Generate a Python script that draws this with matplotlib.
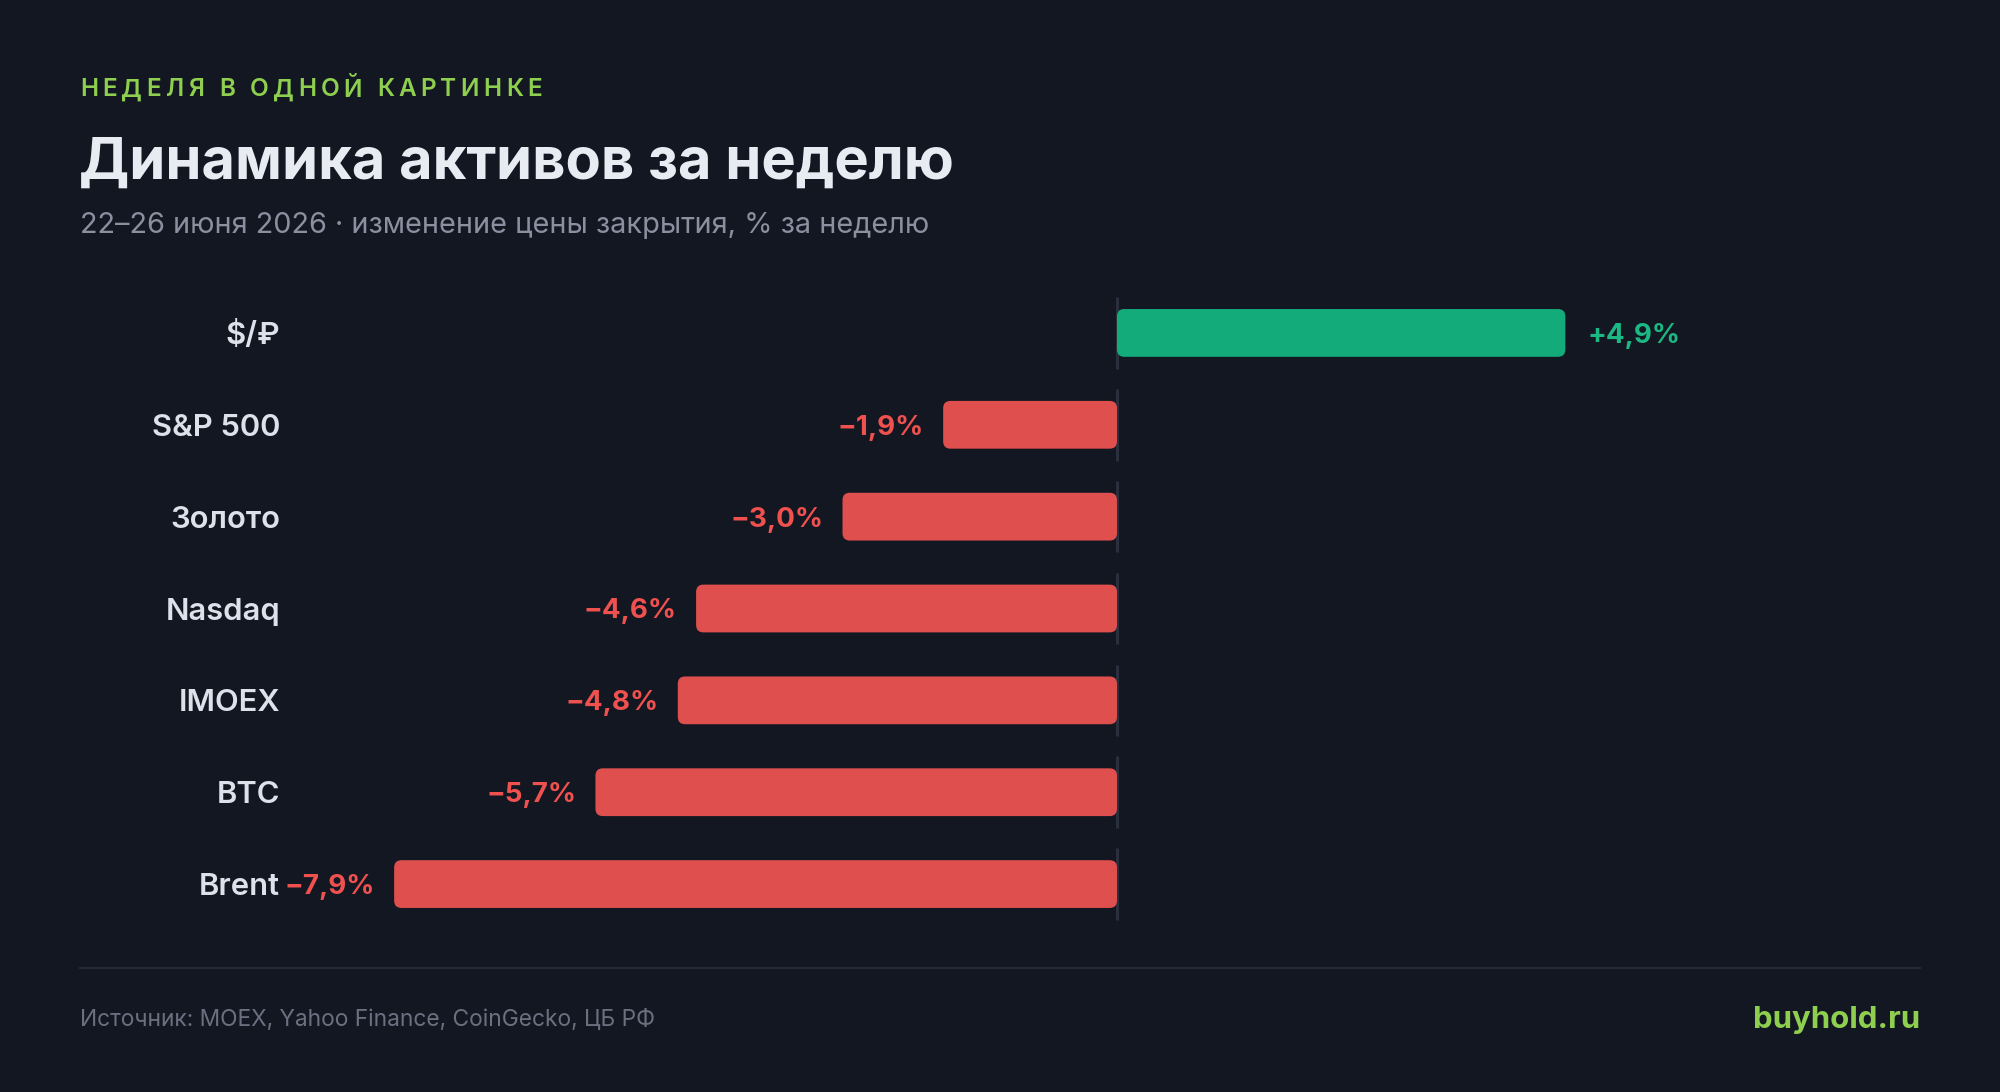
import matplotlib
matplotlib.use("Agg")
import matplotlib.pyplot as plt
from matplotlib.patches import FancyBboxPatch

# data
assets = ["$/₽", "S&P 500", "Золото", "Nasdaq", "IMOEX", "BTC", "Brent"]
changes = [4.9, -1.9, -3.0, -4.6, -4.8, -5.7, -7.9]

kicker = "НЕДЕЛЯ В ОДНОЙ КАРТИНКЕ"
title = "Динамика активов за неделю"
subtitle = "22–26 июня 2026 · изменение цены закрытия, % за неделю"
source = "Источник: MOEX, Yahoo Finance, CoinGecko, ЦБ РФ"
brand = "buyhold.ru"

BG = "#131722"
GREEN = "#13ab7a"
GREEN_TXT = "#1bb883"
RED = "#df4f4e"
RED_TXT = "#f0514f"
LIME = "#8fcf4f"
FONT = ["Inter", "DejaVu Sans"]

W, H = 2000, 1092
fig = plt.figure(figsize=(W / 100, H / 100), dpi=100, facecolor=BG)

def fx(px):
    return px / W

def fy(py):
    return 1 - py / H

# kicker with letter spacing
renderer = fig.canvas.get_renderer()
ksize = 17.5
tmp = fig.text(0, 0, kicker, fontsize=ksize, fontweight="semibold", family=FONT)
natural = tmp.get_window_extent(renderer).width
tmp.remove()
gap = (462 - natural) / (len(kicker) - 1)
for i, ch in enumerate(kicker):
    if i:
        t = fig.text(0, 0, kicker[:i], fontsize=ksize, fontweight="semibold", family=FONT)
        off = t.get_window_extent(renderer).width
        t.remove()
    else:
        off = 0
    fig.text(fx(80 + off + i * gap), fy(90), ch, fontsize=ksize, fontweight="semibold",
             family=FONT, color=LIME, va="center", ha="left")

fig.text(fx(79), fy(164), title, fontsize=41.7, fontweight="bold", family=FONT,
         color="#e8ebf2", va="center", ha="left")
fig.text(fx(80), fy(226), subtitle, fontsize=20.8, family=FONT,
         color="#8a90a0", va="center", ha="left")

# chart
ax = fig.add_axes([fx(300), fy(930), fx(1620), 643 / H])
ax.set_facecolor(BG)
ax.set_xlim(-(1117 - 300) / 91.5, (1920 - 1117) / 91.5)
ax.set_ylim(len(assets) - 0.5, -0.5)
ax.axis("off")

ypos = list(range(len(assets)))
colors = [GREEN if v > 0 else RED for v in changes]
bars = ax.barh(ypos, changes, height=0.52, color=colors)

for y in ypos:
    ax.vlines(0, y - 0.39, y + 0.39, color="#2a2f3d", lw=2.2, zorder=1)

for b, v, y, name in zip(bars, changes, ypos, assets):
    x0, y0 = b.get_x(), b.get_y()
    w, h = b.get_width(), b.get_height()
    b.set_visible(False)
    p = FancyBboxPatch((min(x0, x0 + w), y0), abs(w), h,
                       boxstyle="round,pad=0,rounding_size=0.08",
                       mutation_aspect=1.0, facecolor=b.get_facecolor(),
                       edgecolor="none", zorder=2)
    ax.add_patch(p)
    lab = ("+" if v > 0 else "−") + f"{abs(v):.1f}".replace(".", ",") + "%"
    if v > 0:
        ax.annotate(lab, (v, y), xytext=(16, 0), textcoords="offset points",
                    ha="left", va="center_baseline", fontsize=20, fontweight="bold",
                    family=FONT, color=GREEN_TXT)
    else:
        ax.annotate(lab, (v, y), xytext=(-14, 0), textcoords="offset points",
                    ha="right", va="center_baseline", fontsize=20, fontweight="bold",
                    family=FONT, color=RED_TXT)
    ax.annotate(name, (0, y), xycoords=("figure fraction", "data"),
                xytext=(fx(280) * W * 0.72, 0), textcoords="offset points",
                ha="right", va="center_baseline", fontsize=22.3, fontweight="semibold",
                family=FONT, color="#dde1ea")

# footer
fig.add_artist(plt.Line2D([fx(80), fx(1920)], [fy(968), fy(968)],
                          color="#252a37", lw=1.5))
fig.text(fx(80), fy(1020), source, fontsize=16.4, family=FONT,
         color="#6b7080", va="center", ha="left")
fig.text(fx(1920), fy(1020), brand, fontsize=22.4, fontweight="bold", family=FONT,
         color=LIME, va="center", ha="right")

fig.savefig("out.png", dpi=100, facecolor=BG)
